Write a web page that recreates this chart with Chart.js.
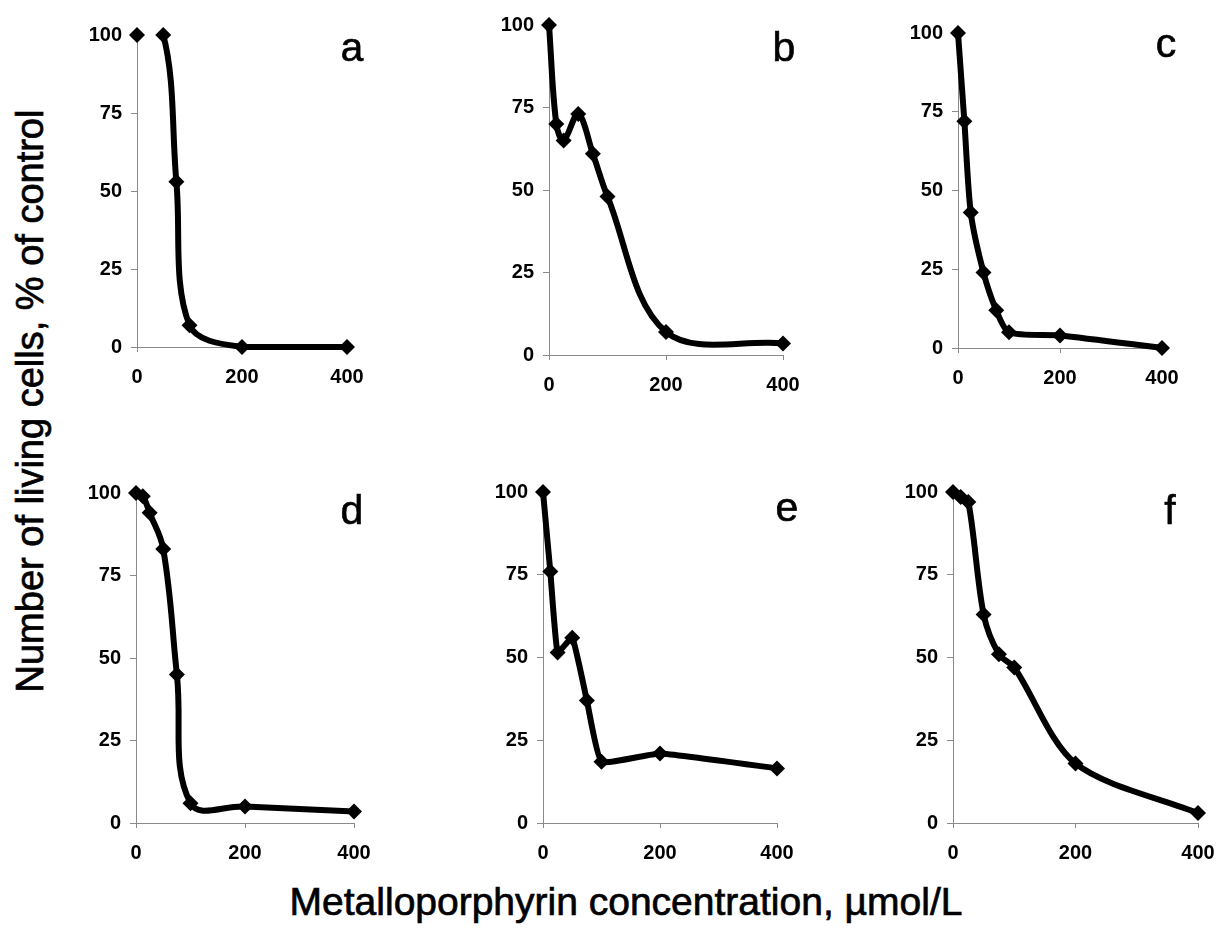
<!DOCTYPE html>
<html>
<head>
    <title>Metalloporphyrin cytotoxicity</title>
    <script src="https://cdn.jsdelivr.net/npm/chart.js"></script>
    <style>
        body { margin: 0; background: #fff; overflow: hidden; font-family: "Liberation Sans", Arial, sans-serif; }
        #page { position: relative; width: 1217px; height: 933px; overflow: hidden; }
        #page canvas { position: absolute; }
        .letter { position: absolute; font-size: 41px; line-height: 41px; color: #000; transform: translateX(-50%); -webkit-text-stroke: 0.6px #000; }
        #xTitle { position: absolute; left: 626px; top: 882px; font-size: 39px; line-height: 39px; white-space: nowrap;
                  transform: translateX(-50%); -webkit-text-stroke: 0.7px #000; }
        #yTitle { position: absolute; left: 30px; top: 401px; width: 660px; height: 38px; margin-left: -330px; margin-top: -19px;
                  font-size: 38px; line-height: 38px; text-align: center; white-space: nowrap; transform: rotate(-90deg);
                  -webkit-text-stroke: 0.7px #000; }
    </style>
</head>
<body>
<div id="page">
    <div id="yTitle">Number of living cells, % of control</div>
    <div id="xTitle">Metalloporphyrin concentration, &micro;mol/L</div>
</div>

<script>
    // concentrations (umol/L)
    const concA = [0, 50, 75, 100, 200, 400];
    const conc = [0, 12.5, 25, 50, 75, 100, 200, 400];

    // living cells, % of control
    const cellsA = [100, 100, 53, 7, 0, 0];
    const cellsB = [100, 70, 65, 73, 61, 48, 7, 3.5];
    const cellsC = [100, 72, 43, 24, 12, 5, 4, 0];
    const cellsD = [100, 99, 94, 83, 45, 6, 5, 3.5];
    const cellsE = [100, 76, 51.5, 56, 37, 18.5, 21, 16.5];
    const cellsF = [100, 98.5, 97, 63, 51, 47, 18, 3];

    const letters = ['a', 'b', 'c', 'd', 'e', 'f'];
    const xTicks = [0, 200, 400];
    const yTicks = [0, 25, 50, 75, 100];

    const panels = [
        { x: concA, y: cellsA, skipFirst: true, tension: 0.35 },
        { x: conc, y: cellsB, tension: 0.35 },
        { x: conc, y: cellsC, tension: 0.25 },
        { x: conc, y: cellsD, tension: 0.4 },
        { x: conc, y: cellsE, tension: 0.12 },
        { x: conc, y: cellsF, tension: 0.3 }
    ];

    // plot area of each panel on the page, and where its letter sits
    const boxes = [
        { l: 137, t: 29, r: 347, b: 347, lx: 352, ly: 62 },
        { l: 549, t: 19, r: 783, b: 355, lx: 784, ly: 62 },
        { l: 958, t: 27, r: 1162, b: 348, lx: 1166, ly: 58 },
        { l: 136, t: 487, r: 354, b: 823, lx: 352, ly: 525 },
        { l: 543, t: 486, r: 777, b: 823, lx: 787, ly: 522 },
        { l: 953, t: 486, r: 1198, b: 823, lx: 1170, ly: 525 }
    ];

    const page = document.getElementById('page');
    const tickFont = { family: '"Liberation Sans", Arial, sans-serif', size: 20, weight: 'bold' };
    const axisGray = '#8a8a8a';
    // padR must exceed half the last x label plus tick padding, or Chart.js shrinks the plot
    const padL = 70, padT = 15, padR = 36, padB = 45;

    panels.forEach((p, i) => {
        const box = boxes[i];
        const canvas = document.createElement('canvas');
        canvas.width = box.r - box.l + padL + padR;
        canvas.height = box.b - box.t + padT + padB;
        canvas.style.left = (box.l - padL) + 'px';
        canvas.style.top = (box.t - padT) + 'px';
        page.appendChild(canvas);

        const letter = document.createElement('div');
        letter.className = 'letter';
        letter.textContent = letters[i];
        letter.style.left = box.lx + 'px';
        letter.style.top = (box.ly - 35) + 'px';
        page.appendChild(letter);

        new Chart(canvas, {
            type: 'line',
            data: {
                datasets: [{
                    data: p.x.map((x, j) => ({ x: x, y: p.y[j] })),
                    borderColor: '#000',
                    borderWidth: 6,
                    backgroundColor: '#000',
                    pointStyle: 'rectRot',
                    pointRadius: 8,
                    pointBorderWidth: 0,
                    tension: p.tension,
                    clip: false,
                    segment: {
                        borderColor: ctx => (p.skipFirst && ctx.p0DataIndex === 0) ? 'rgba(0,0,0,0)' : '#000'
                    }
                }]
            },
            options: {
                responsive: false,
                animation: false,
                layout: { padding: { left: 0, top: padT, right: padR, bottom: 0 } },
                plugins: { legend: { display: false }, tooltip: { enabled: false } },
                scales: {
                    x: {
                        type: 'linear', min: 0, max: 400,
                        afterFit: s => { s.height = padB; },
                        afterBuildTicks: s => { s.ticks = xTicks.map(v => ({ value: v })); },
                        grid: { drawOnChartArea: false, color: axisGray, tickLength: 5 },
                        border: { color: axisGray, width: 1 },
                        ticks: { font: tickFont, color: '#000', padding: 13, maxRotation: 0 }
                    },
                    y: {
                        min: 0, max: 100,
                        afterFit: s => { s.width = padL; },
                        afterBuildTicks: s => { s.ticks = yTicks.map(v => ({ value: v })); },
                        grid: { drawOnChartArea: false, color: axisGray, tickLength: 6 },
                        border: { color: axisGray, width: 1 },
                        ticks: { font: tickFont, color: '#000', padding: 9 }
                    }
                }
            }
        });
    });
</script>
</body>
</html>
